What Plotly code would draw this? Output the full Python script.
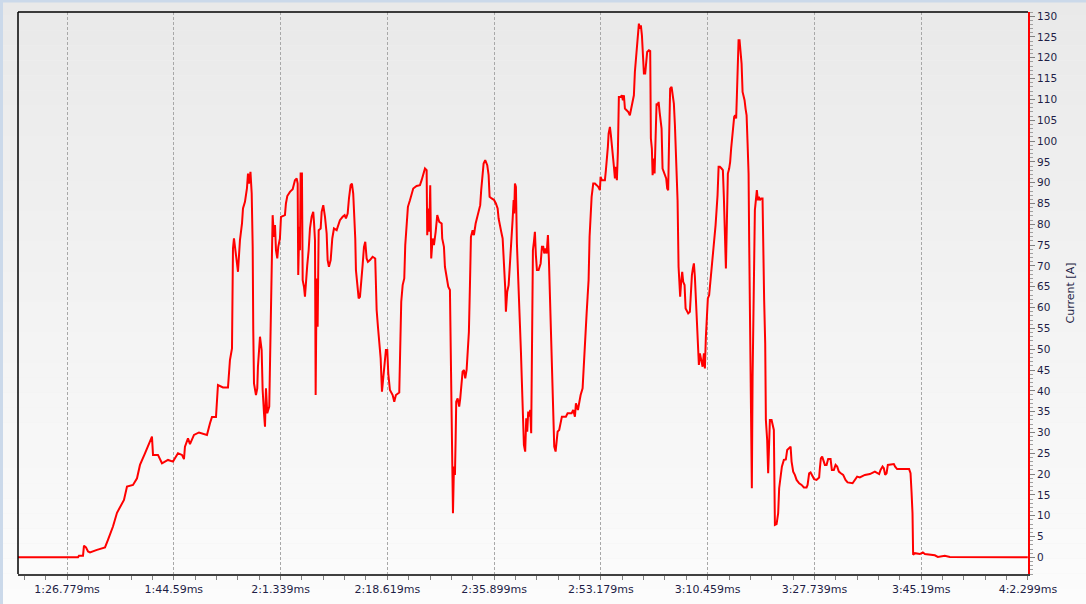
import plotly.graph_objects as go

# time axis in seconds (tick labels keep the logger's odd m:s.ms format)
tick_vals = [86.779, 104.059, 121.339, 138.619, 155.899,
             173.179, 190.459, 207.739, 225.019, 242.299]
tick_text = ['1:26.779ms', '1:44.59ms', '2:1.339ms', '2:18.619ms', '2:35.899ms',
             '2:53.179ms', '3:10.459ms', '3:27.739ms', '3:45.19ms', '4:2.299ms']

time_s = [
    78.85, 88.56, 88.72, 89.37, 89.53, 89.85, 90.18, 90.50, 91.63, 92.93,
    93.41, 94.22, 94.87, 95.36, 96.00, 96.49, 97.46, 98.11, 98.59, 99.40,
    100.05, 100.53, 100.70, 101.50, 102.15, 103.12, 103.93, 104.74, 105.39, 105.71,
    105.87, 106.36, 106.68, 107.33, 108.14, 109.43, 109.92, 110.24, 110.89, 111.05,
    111.21, 112.02, 112.83, 113.15, 113.48, 113.64, 113.80, 114.29, 114.45, 114.77,
    115.10, 115.26, 115.58, 115.90, 116.07, 116.23, 116.47, 116.67, 116.83, 116.92,
    117.04, 117.36, 117.57, 117.68, 117.89, 118.01, 118.28, 118.44, 118.66, 118.82,
    118.98, 119.19, 119.51, 119.74, 119.95, 120.06, 120.27, 120.44, 120.60, 120.81,
    120.97, 121.24, 121.41, 122.05, 122.21, 122.43, 122.86, 123.30, 123.67, 123.95,
    124.11, 124.20, 124.37, 124.48, 124.59, 124.80, 124.92, 125.13, 125.29, 125.45,
    125.66, 125.89, 126.10, 126.37, 126.63, 126.75, 126.91, 127.02, 127.18, 127.34,
    127.51, 127.83, 127.99, 128.25, 128.53, 128.80, 128.96, 129.17, 129.45, 129.71,
    129.98, 130.42, 130.68, 130.95, 131.39, 131.71, 131.92, 132.20, 132.41, 132.68,
    132.89, 133.10, 133.27, 133.43, 133.54, 133.75, 133.98, 134.19, 134.40, 134.62,
    134.84, 135.05, 135.27, 135.48, 135.81, 136.24, 136.66, 136.89, 137.10, 137.31,
    137.54, 137.75, 137.96, 138.18, 138.39, 138.61, 138.77, 139.04, 139.48, 139.74,
    140.01, 140.55, 140.66, 140.87, 141.10, 141.36, 141.52, 141.74, 141.95, 142.28,
    142.55, 142.81, 143.36, 143.90, 144.17, 144.43, 144.71, 144.98, 145.08, 145.24,
    145.40, 145.56, 145.72, 145.95, 146.16, 146.44, 146.70, 147.02, 147.41, 147.50,
    147.78, 147.94, 148.22, 148.48, 148.75, 148.86, 149.02, 149.12, 149.24, 149.40,
    149.56, 149.67, 149.77, 150.00, 150.25, 150.42, 150.58, 150.80, 151.02, 151.23,
    151.45, 151.66, 151.82, 151.99, 152.15, 152.42, 152.63, 152.91, 153.17, 153.39,
    153.65, 153.81, 153.98, 154.20, 154.46, 154.79, 155.01, 155.17, 155.50, 155.87,
    156.19, 156.47, 156.63, 156.84, 157.05, 157.28, 157.49, 157.70, 157.81, 158.02,
    158.25, 158.46, 158.67, 158.89, 159.06, 159.15, 159.27, 159.43, 159.59, 159.75,
    159.91, 160.08, 160.24, 160.40, 160.56, 160.72, 160.93, 161.10, 161.26, 161.42,
    161.58, 161.74, 161.90, 162.07, 162.18, 162.34, 162.50, 162.66, 162.83, 163.10,
    163.43, 163.64, 163.85, 164.01, 164.17, 164.40, 164.61, 164.77, 164.93, 165.09,
    165.25, 165.42, 165.63, 165.85, 166.01, 166.18, 166.43, 166.66, 166.87, 167.52,
    167.79, 168.44, 168.70, 168.98, 169.14, 169.46, 169.67, 169.90, 170.22, 170.38,
    170.54, 170.71, 170.87, 171.03, 171.19, 171.35, 171.52, 171.68, 171.94, 172.21,
    172.49, 172.75, 173.02, 173.13, 173.34, 173.83, 173.99, 174.15, 174.31, 174.43,
    174.64, 174.80, 174.96, 175.12, 175.29, 175.45, 175.61, 175.77, 175.93, 176.09,
    176.37, 176.58, 176.74, 176.90, 177.07, 177.34, 177.60, 177.87, 178.15, 178.36,
    178.52, 178.68, 178.84, 179.01, 179.17, 179.33, 179.49, 179.65, 179.82, 179.98,
    180.14, 180.35, 180.51, 180.67, 180.95, 181.16, 181.27, 181.43, 181.55, 181.71,
    181.87, 182.03, 182.19, 182.36, 182.52, 182.68, 182.84, 183.00, 183.16, 183.38,
    183.59, 183.75, 183.91, 184.07, 184.23, 184.39, 184.62, 184.78, 184.99, 185.16,
    185.32, 185.48, 185.59, 185.75, 185.92, 186.01, 186.17, 186.34, 186.50, 186.72,
    186.89, 187.10, 187.31, 187.58, 187.74, 187.91, 188.07, 188.23, 188.39, 188.55,
    188.71, 188.88, 189.04, 189.20, 189.41, 189.64, 189.85, 190.01, 190.17, 190.33,
    190.49, 190.70, 190.87, 191.09, 191.25, 191.42, 191.58, 191.74, 191.90, 192.06,
    192.23, 192.44, 192.71, 192.92, 193.08, 193.25, 193.41, 193.57, 193.73, 193.94,
    194.10, 194.26, 194.43, 194.59, 194.75, 194.91, 195.07, 195.19, 195.30, 195.46,
    195.62, 195.79, 195.95, 196.11, 196.27, 196.43, 196.59, 196.76, 196.92, 197.08,
    197.18, 197.34, 197.45, 197.61, 197.73, 197.94, 198.10, 198.26, 198.42, 198.58,
    198.75, 198.91, 199.12, 199.34, 199.44, 199.60, 199.77, 199.88, 200.09, 200.25,
    200.53, 200.80, 201.17, 201.34, 201.61, 201.87, 202.03, 202.26, 202.47, 202.79,
    203.11, 203.33, 203.65, 203.88, 204.04, 204.30, 204.57, 204.85, 205.27, 205.66,
    206.03, 206.46, 206.63, 206.88, 207.11, 207.43, 207.69, 208.08, 208.50, 208.62,
    208.78, 208.99, 209.15, 209.43, 209.70, 209.96, 210.35, 210.56, 210.88, 211.16,
    211.42, 211.69, 212.01, 212.39, 212.77, 213.10, 213.91, 214.28, 214.65, 215.09,
    215.90, 216.71, 217.52, 218.21, 218.44, 218.76, 218.97, 219.18, 219.41, 219.62,
    220.59, 220.80, 221.12, 223.06, 223.29, 223.45, 223.61, 223.71, 223.99, 224.80,
    225.28, 225.61, 226.41, 227.22, 227.71, 228.84, 229.65, 242.27,
]

current_a = [
    0.0, 0.0, 0.4, 0.4, 2.8, 2.4, 1.4, 1.2, 1.8, 2.4,
    4.2, 7.4, 10.7, 12.2, 13.8, 17.0, 17.4, 19.0, 22.2, 25.0,
    27.4, 29.0, 24.6, 24.6, 22.6, 23.4, 23.0, 25.0, 24.6, 23.6,
    26.6, 28.6, 27.2, 29.4, 30.0, 29.4, 32.2, 33.7, 33.7, 39.0,
    41.4, 40.8, 40.8, 47.4, 50.2, 74.2, 76.6, 70.6, 68.6, 76.2,
    80.2, 83.8, 85.4, 88.6, 92.2, 89.8, 92.6, 87.4, 74.6, 55.0,
    41.8, 39.0, 40.6, 45.8, 49.4, 53.0, 49.8, 40.2, 34.6, 31.4,
    40.6, 34.6, 36.2, 53.0, 67.8, 82.2, 77.0, 79.8, 73.8, 71.8,
    74.6, 76.6, 81.8, 82.2, 85.0, 86.8, 87.8, 88.4, 90.6, 91.0,
    89.8, 67.8, 79.4, 73.8, 92.2, 92.2, 66.6, 65.0, 62.6, 66.6,
    70.2, 73.8, 79.0, 81.8, 83.0, 80.6, 76.2, 39.0, 67.0, 55.4,
    78.6, 79.0, 83.0, 84.6, 81.8, 77.8, 71.4, 69.8, 71.4, 76.6,
    79.0, 78.6, 79.8, 81.0, 81.8, 82.2, 81.4, 82.6, 86.2, 89.4,
    89.8, 87.4, 81.8, 76.6, 69.0, 66.2, 62.2, 62.6, 67.4, 70.2,
    74.6, 75.8, 71.8, 71.0, 71.4, 72.2, 71.8, 59.4, 55.4, 51.4,
    47.8, 39.8, 42.6, 45.8, 49.8, 49.8, 44.2, 40.2, 39.0, 37.4,
    39.0, 39.6, 50.2, 61.4, 65.4, 67.0, 75.0, 81.0, 84.2, 85.8,
    87.0, 88.6, 89.2, 89.4, 90.6, 92.2, 93.4, 93.0, 77.4, 83.8,
    78.2, 89.4, 71.8, 76.6, 75.0, 78.2, 82.2, 80.6, 80.2, 76.6,
    74.6, 69.8, 67.4, 65.0, 64.2, 49.0, 33.8, 22.2, 10.6, 21.8,
    19.8, 28.2, 37.4, 38.2, 36.2, 38.2, 41.0, 44.6, 45.0, 43.0,
    45.0, 49.4, 54.2, 65.4, 77.0, 78.6, 77.4, 80.2, 81.8, 83.4,
    84.6, 88.2, 91.8, 94.6, 95.4, 94.2, 91.8, 86.6, 86.2, 85.9,
    85.0, 83.8, 81.4, 79.4, 78.2, 76.6, 71.4, 64.6, 59.0, 63.8,
    65.4, 69.8, 76.2, 81.0, 85.8, 82.6, 89.8, 89.0, 75.4, 69.8,
    63.4, 56.6, 49.4, 41.8, 35.4, 27.0, 25.4, 33.4, 30.2, 35.0,
    33.8, 35.4, 29.8, 52.2, 73.8, 75.8, 78.2, 72.6, 69.0, 69.0,
    70.6, 74.6, 74.6, 73.0, 74.2, 73.0, 77.4, 71.4, 62.6, 57.8,
    49.8, 38.2, 26.6, 25.4, 27.4, 30.2, 30.6, 32.2, 33.8, 33.8,
    34.6, 34.6, 35.4, 33.8, 37.0, 35.4, 37.4, 39.0, 40.6, 45.0,
    52.6, 55.8, 58.6, 62.6, 66.6, 77.0, 83.0, 86.6, 89.8, 89.8,
    89.4, 89.0, 88.2, 91.4, 90.6, 90.6, 93.0, 95.4, 98.6, 101.8,
    103.4, 101.4, 99.4, 96.2, 93.8, 91.0, 93.8, 90.6, 97.4, 110.6,
    110.6, 111.0, 109.8, 111.0, 107.8, 107.4, 107.0, 106.2, 108.6, 109.8,
    111.0, 116.6, 119.4, 122.2, 126.2, 128.2, 127.0, 127.8, 125.4, 121.0,
    116.2, 116.2, 119.0, 121.4, 121.8, 121.6, 100.6, 98.2, 91.8, 95.8,
    92.2, 103.0, 109.0, 108.6, 109.4, 107.0, 105.4, 103.0, 93.4, 92.6,
    91.8, 91.0, 88.6, 88.2, 101.4, 112.6, 113.0, 111.0, 109.0, 103.8,
    97.0, 91.8, 85.8, 69.8, 66.2, 62.6, 66.2, 68.6, 66.2, 65.4,
    59.8, 59.0, 58.6, 59.0, 64.2, 67.8, 69.4, 70.6, 67.4, 62.2,
    55.8, 49.4, 46.2, 49.0, 47.8, 45.8, 49.0, 45.4, 53.0, 57.8,
    62.2, 63.0, 65.8, 67.8, 70.2, 75.0, 77.4, 79.8, 83.4, 87.0,
    93.8, 93.8, 93.4, 93.0, 86.6, 77.8, 69.4, 80.6, 92.2, 93.4,
    95.0, 98.2, 101.0, 103.4, 105.8, 106.2, 105.4, 111.0, 118.2, 124.2,
    124.2, 120.6, 118.6, 111.8, 111.0, 109.8, 107.8, 106.2, 99.4, 92.2,
    75.8, 55.8, 35.8, 16.6, 43.4, 73.0, 83.4, 85.8, 88.2, 85.8,
    86.6, 85.8, 86.2, 86.2, 71.8, 61.8, 51.4, 33.0, 28.2, 20.2,
    33.0, 33.0, 30.6, 7.8, 8.0, 10.6, 16.6, 19.4, 21.8, 23.4,
    23.5, 25.8, 26.2, 26.6, 23.0, 20.6, 19.8, 18.6, 17.8, 17.4,
    16.8, 16.8, 17.4, 20.2, 20.4, 19.4, 18.8, 18.6, 19.2, 21.4,
    23.8, 24.2, 23.4, 22.2, 22.2, 23.6, 23.6, 21.0, 21.0, 22.2,
    21.8, 20.6, 20.2, 19.8, 18.6, 18.0, 17.8, 18.6, 19.4, 19.2,
    19.8, 20.0, 20.6, 20.0, 21.0, 21.8, 21.4, 19.8, 20.2, 22.2,
    22.4, 21.8, 21.2, 21.2, 20.2, 15.8, 10.6, 0.6, 1.0, 0.8,
    1.2, 0.8, 0.6, 0.5, 0.1, 0.4, 0.1, 0.0,
]

x_range = [78.85, 242.3]
y_range = [-4, 131]

fig = go.Figure()

fig.add_trace(go.Scatter(
    x=time_s, y=current_a, mode='lines',
    line=dict(color='#ff0000', width=2),
    showlegend=False,
))

# grey-to-white gradient behind everything (whole window, like the logger UI)
shapes = []
n_bands = 40
y_top, y_bot = 1 + 12 / 562, -30 / 562
for i in range(n_bands):
    y1 = y_top - (y_top - y_bot) * i / n_bands
    y0 = y_top - (y_top - y_bot) * (i + 1) / n_bands
    g = int(round(233 + (252 - 233) * (i + 0.5) / n_bands))
    shapes.append(dict(type='rect', xref='paper', yref='paper',
                       x0=-0.02, x1=1.06, y0=y0, y1=y1,
                       fillcolor='rgb(%d,%d,%d)' % (g, g, g),
                       line=dict(width=0), layer='below'))

# light blue window border top and left
shapes.append(dict(type='rect', xref='paper', yref='paper',
                   x0=-0.02, x1=1.06, y0=1 + 9.5 / 562, y1=y_top,
                   fillcolor='#cbd9ea', line=dict(width=0), layer='above'))
shapes.append(dict(type='rect', xref='paper', yref='paper',
                   x0=-0.02, x1=-15 / 1010.5, y0=y_bot, y1=y_top,
                   fillcolor='#cbd9ea', line=dict(width=0), layer='above'))

# black frame top and left of the plot area
shapes.append(dict(type='line', xref='paper', yref='paper',
                   x0=0, x1=1, y0=1, y1=1, line=dict(color='black', width=1.5)))
shapes.append(dict(type='line', xref='paper', yref='paper',
                   x0=0, x1=0, y0=0, y1=1, line=dict(color='black', width=1.5)))

fig.update_layout(
    width=1086, height=604,
    margin=dict(l=18, r=58, t=12, b=30, autoexpand=False),
    paper_bgcolor='#f0f0f0',
    plot_bgcolor='rgba(0,0,0,0)',
    shapes=shapes,
    font=dict(family='DejaVu Sans', color='#1e1e46'),
)

fig.update_xaxes(
    range=x_range,
    tickmode='array', tickvals=tick_vals, ticktext=tick_text,
    tickfont=dict(size=11, color='#1e1e46'),
    ticks='outside', ticklen=4, tickcolor='#808080',
    minor=dict(tick0=86.779, dtick=17.28 / 5, ticks='outside', ticklen=4,
               tickcolor='#808080', showgrid=False),
    showgrid=True, gridcolor='#a8a8a8', griddash='3px,2px', gridwidth=1,
    showline=True, linecolor='#404040', linewidth=2,
    zeroline=False,
)

fig.update_yaxes(
    range=y_range, side='right',
    tick0=0, dtick=5,
    tickfont=dict(size=10.5, color='#1e1e46'),
    ticks='outside', ticklen=5, tickcolor='#808080',
    minor=dict(dtick=1, ticks='outside', ticklen=3, tickcolor='#a0a0a0', showgrid=False),
    showgrid=False, zeroline=False,
    showline=True, linecolor='#ff0000', linewidth=2,
    title=dict(text='Current [A]', font=dict(size=11, color='#1e1e46'), standoff=10),
)

fig.write_html("out.html", config={'displayModeBar': False},
               post_script="document.body.style.margin='0px';")
